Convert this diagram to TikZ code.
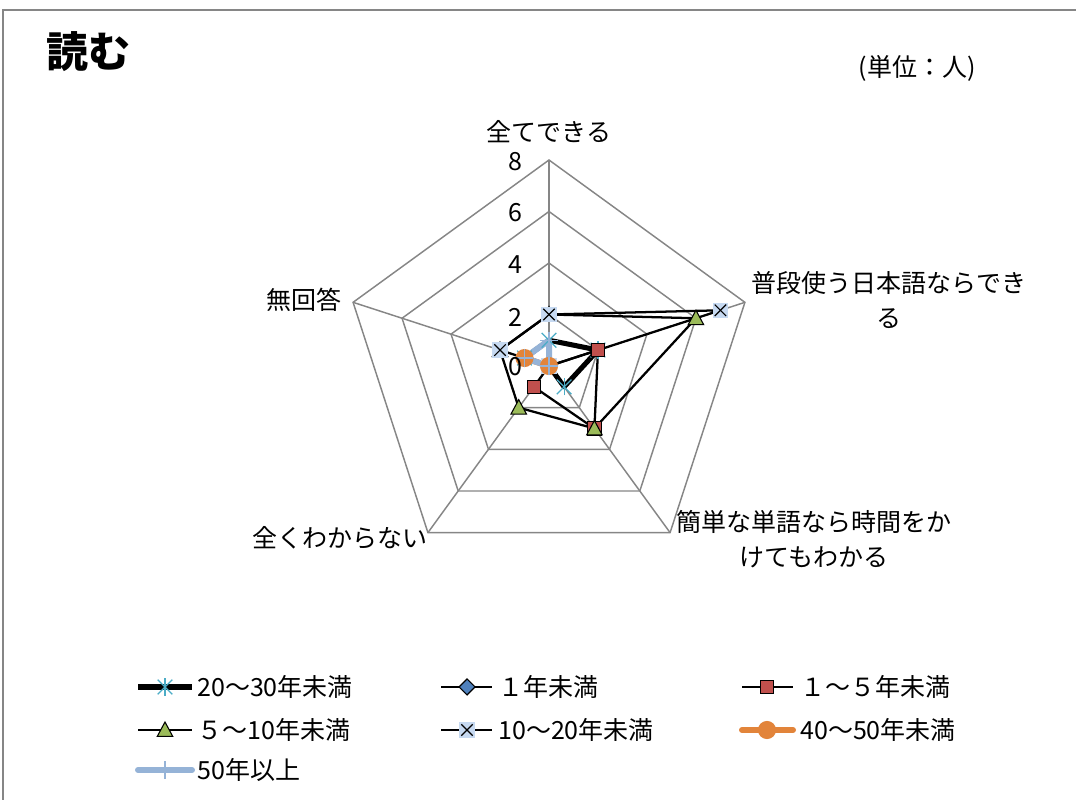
\documentclass[tikz,border=0pt]{standalone}
\usepackage{fontspec}
\setmainfont{Noto Sans CJK JP}
\usepackage{tikz}
\definecolor{gridgray}{RGB}{134,134,134}
\definecolor{astcol}{RGB}{75,172,198}
\definecolor{diacol}{RGB}{79,129,189}
\definecolor{sqcol}{RGB}{192,80,77}
\definecolor{tricol}{RGB}{155,187,89}
\definecolor{xcol}{RGB}{198,217,241}
\definecolor{orng}{RGB}{226,132,58}
\definecolor{lblue}{RGB}{149,179,215}
\tikzset{astmark/.pic = {\draw[astcol,line width=0.9pt] (0,-6.5pt) -- (0,6.5pt);
                         \draw[astcol,line width=0.9pt] (-5.5pt,-5.5pt) -- (5.5pt,5.5pt);
                         \draw[astcol,line width=0.9pt] (-5.5pt,5.5pt) -- (5.5pt,-5.5pt);}}
\tikzset{diamark/.pic = {\filldraw[fill=diacol,draw=black,line width=0.8pt] (0,6pt) -- (6pt,0) -- (0,-6pt) -- (-6pt,0) -- cycle;}}
\tikzset{sqmark/.pic = {\filldraw[fill=sqcol,draw=black,line width=0.8pt] (-5pt,-5pt) rectangle (5pt,5pt);}}
\tikzset{trimark/.pic = {\filldraw[fill=tricol,draw=black,line width=0.8pt] (-5.8pt,-4.8pt) -- (5.8pt,-4.8pt) -- (0,6pt) -- cycle;}}
\tikzset{xmark/.pic = {\fill[xcol] (-5.8pt,-5.8pt) rectangle (5.8pt,5.8pt);
                       \draw[black,line width=0.9pt] (-4.3pt,-4.3pt) -- (4.3pt,4.3pt);
                       \draw[black,line width=0.9pt] (-4.3pt,4.3pt) -- (4.3pt,-4.3pt);}}
\tikzset{dotmark/.pic = {\fill[orng] (0,0) circle (6.8pt);}}
\tikzset{plusmark/.pic = {\draw[lblue,line width=1pt] (0,-6.5pt) -- (0,6.5pt);
                          \draw[lblue,line width=1pt] (-6.5pt,0) -- (6.5pt,0);}}
\begin{document}
\begin{tikzpicture}[x=0.75pt,y=0.75pt,
    gridline/.style={draw=gridgray,line width=1.1pt},
    thinline/.style={draw=black,line width=1.7pt,line join=round},
    thickline/.style={draw=black,line width=3.8pt,line join=round},
    orngline/.style={draw=orng,line width=4.5pt,line join=round,line cap=round},
    blueline/.style={draw=lblue,line width=4.5pt,line join=round,line cap=round},
    lab/.style={inner sep=0pt,font=\fontsize{18.75}{26.25}\selectfont},
    ticklab/.style={lab,anchor=east},
    legtext/.style={lab,anchor=west}]
    \useasboundingbox (0,0) rectangle (1076,800);
    \draw[gridgray,line width=1.1pt] (3,0) -- (3,790) -- (1076,790);

    \node[inner sep=0pt,font=\fontsize{31.5}{36}\selectfont\bfseries] (title) at (88,748) {読む};
    \node[lab] (unit) at (917,732) {(単位：人)};

    % radar, 1 unit = one person
    \begin{scope}[shift={(549,434)},x=19.3125pt,y=19.3125pt]
        \foreach \r in {2,4,6,8}
            \draw[gridline] (90:\r) -- (18:\r) -- (-54:\r) -- (-126:\r) -- (162:\r) -- cycle;
        \foreach \a in {90,18,-54,-126,162}
            \draw[gridline] (0,0) -- (\a:8);

        \draw[thickline] (90:1) -- (18:2) -- (-54:1) -- (-126:0) -- (162:1) -- cycle;
        \draw[thinline] (90:0) -- (18:0) -- (-54:0) -- (-126:0) -- (162:0) -- cycle;
        \draw[thinline] (90:0) -- (18:2) -- (-54:3) -- (-126:1) -- (162:0) -- cycle;
        \draw[thinline] (90:2) -- (18:6) -- (-54:3) -- (-126:2) -- (162:2) -- cycle;
        \draw[thinline] (90:2) -- (18:7) -- (-54:0) -- (-126:0) -- (162:2) -- cycle;
        \draw[orngline] (90:0) -- (18:0) -- (-54:0) -- (-126:0) -- (162:1) -- cycle;
        \draw[blueline] (90:1) -- (18:0) -- (-54:0) -- (-126:0) -- (162:1) -- cycle;

        \foreach \a/\v in {90/1,18/2,-54/1,-126/0,162/1} \path (\a:\v) pic{astmark};
        \path (0,0) pic{diamark};
        \foreach \a/\v in {90/0,18/2,-54/3,-126/1} \path (\a:\v) pic{sqmark};
        \foreach \a/\v in {90/2,18/6,-54/3,-126/2,162/2} \path (\a:\v) pic{trimark};
        \foreach \a/\v in {90/2,18/7,-54/0,162/2} \path (\a:\v) pic{xmark};
        \foreach \a/\v in {90/0,162/1} \path (\a:\v) pic{dotmark};
        \foreach \a/\v in {90/1,18/0,162/1} \path (\a:\v) pic{plusmark};
    \end{scope}

    \node[ticklab] (t8) at (523,638) {8};
    \node[ticklab] (t6) at (523,587) {6};
    \node[ticklab] (t4) at (523,535) {4};
    \node[ticklab] (t2) at (523,483) {2};
    \node[ticklab] (t0) at (523,433) {0};

    \node[lab] (ax1) at (549,668) {全てできる};
    \node[lab,align=center] (ax2) at (889,500) {普段使う日本語ならでき\\る};
    \node[lab,align=center] (ax3) at (814,261) {簡単な単語なら時間をか\\けてもわかる};
    \node[lab] (ax4) at (340,262) {全くわからない};
    \node[lab] (ax5) at (304,500) {無回答};

    % legend
    \draw[thickline] (138,113) -- (192,113);
    \path (165,113) pic{astmark};
    \node[legtext] (leg1) at (197,113) {20～30年未満};
    \draw[thinline] (441,113) -- (492,113);
    \path (467,113) pic{diamark};
    \node[legtext] (leg2) at (498,113) {１年未満};
    \draw[thinline] (742,113) -- (793,113);
    \path (767,113) pic{sqmark};
    \node[legtext] (leg3) at (800,113) {１～５年未満};
    \draw[thinline] (138,70) -- (192,70);
    \path (165,70) pic{trimark};
    \node[legtext] (leg4) at (197,70) {５～10年未満};
    \draw[thinline] (441,70) -- (492,70);
    \path (467,70) pic{xmark};
    \node[legtext] (leg5) at (498,70) {10～20年未満};
    \draw[orngline] (742,70) -- (793,70);
    \path (767,70) pic{dotmark};
    \node[legtext] (leg6) at (800,70) {40～50年未満};
    \draw[blueline] (138,30) -- (192,30);
    \draw[lblue,line width=1pt] (165,21) -- (165,39);
    \node[legtext] (leg7) at (197,30) {50年以上};
\end{tikzpicture}
\end{document}
